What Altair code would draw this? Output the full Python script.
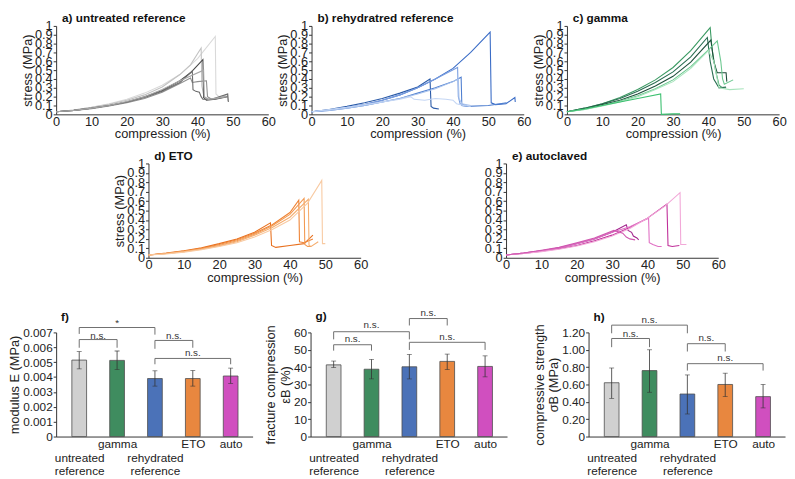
import altair as alt
import pandas as pd

FONT = "Liberation Sans"

# ---------------- stress-strain curves: (compression %, stress MPa) ----------------
# a) untreated reference
A1 = [(0, 0.03), (5, 0.05), (10, 0.08), (15, 0.12), (20, 0.17), (25, 0.24), (30, 0.33), (35, 0.45), (40, 0.63), (45, 0.88), (45.2, 0.23), (46, 0.2), (48, 0.21), (48.5, 0.2)]
A2 = [(0, 0.03), (5, 0.05), (10, 0.08), (15, 0.115), (20, 0.16), (25, 0.22), (30, 0.31), (35, 0.45), (38, 0.56), (41, 0.75), (41.2, 0.32), (41.8, 0.2), (43, 0.17), (46, 0.18), (48.5, 0.23), (48.6, 0.15)]
A3 = [(0, 0.03), (5, 0.045), (10, 0.07), (15, 0.1), (20, 0.14), (25, 0.2), (30, 0.27), (35, 0.38), (38, 0.47), (41.5, 0.62), (41.7, 0.19), (42.5, 0.16), (45, 0.17), (48.5, 0.2)]
A4 = [(0, 0.03), (5, 0.045), (10, 0.065), (15, 0.095), (20, 0.13), (25, 0.18), (30, 0.25), (35, 0.35), (38, 0.41), (38.5, 0.36), (40, 0.37), (42.5, 0.38), (42.8, 0.2), (44, 0.17), (48, 0.2)]
A5 = [(0, 0.03), (5, 0.045), (10, 0.068), (15, 0.1), (20, 0.14), (25, 0.19), (30, 0.26), (35, 0.36), (38.5, 0.49), (38.7, 0.28), (39.5, 0.26), (40.5, 0.25), (41, 0.2), (41.5, 0.17), (44, 0.17), (48.5, 0.23), (48.7, 0.14)]
A6 = [(0, 0.03), (5, 0.045), (10, 0.07), (15, 0.1), (20, 0.145), (25, 0.2), (30, 0.28), (35, 0.38), (41.7, 0.5), (41.9, 0.2), (43, 0.17), (48, 0.2)]
A_COLORS = ["#d9d9d9", "#c2c2c2", "#4a4a4a", "#8f8f8f", "#6a6a6a", "#a6a6a6"]

# b) rehydrated reference
B1 = [(0, 0.03), (5, 0.05), (10, 0.08), (15, 0.11), (20, 0.16), (25, 0.22), (30, 0.3), (35, 0.4), (40, 0.52), (45, 0.7), (50.5, 0.93), (50.8, 0.13), (52, 0.11), (55, 0.12), (57.5, 0.19), (57.6, 0.14)]
B2 = [(0, 0.03), (5, 0.055), (10, 0.09), (15, 0.13), (20, 0.18), (25, 0.24), (30, 0.31), (33.5, 0.4), (33.8, 0.09), (34.5, 0.07), (36, 0.06)]
B3 = [(0, 0.03), (5, 0.045), (10, 0.07), (15, 0.1), (20, 0.14), (25, 0.18), (30, 0.24), (35, 0.3), (40, 0.37), (42.3, 0.42), (42.5, 0.1), (44, 0.09), (50, 0.1), (55, 0.13), (55.2, 0.12)]
B4 = [(0, 0.03), (5, 0.05), (10, 0.08), (15, 0.11), (20, 0.16), (25, 0.22), (30, 0.3), (35, 0.4), (41.3, 0.53), (41.5, 0.2), (42, 0.12), (44, 0.1)]
B5 = [(0, 0.03), (5, 0.045), (10, 0.07), (15, 0.1), (20, 0.14), (25, 0.18), (30, 0.23), (35, 0.29), (40, 0.37), (41.5, 0.4), (41.7, 0.18), (42.5, 0.12), (45, 0.1)]
B6 = [(0, 0.03), (10, 0.08), (20, 0.14), (25, 0.17), (28, 0.2), (29, 0.17), (32, 0.16), (35, 0.18), (38, 0.17), (40, 0.16), (41, 0.12), (43, 0.1), (45, 0.09)]
B_COLORS = ["#3a6cc6", "#2a5aa8", "#4f7fd0", "#7a9ee0", "#a8c2ec", "#c4d6f4"]

# c) gamma
C1 = [(0, 0.03), (5, 0.07), (10, 0.12), (15, 0.19), (20, 0.28), (25, 0.39), (30, 0.53), (35, 0.72), (40.5, 0.98), (41, 0.75), (42, 0.5), (43, 0.33), (44, 0.3), (45, 0.3)]
C2 = [(0, 0.03), (5, 0.07), (10, 0.12), (15, 0.18), (20, 0.26), (25, 0.36), (30, 0.48), (35, 0.65), (39.7, 0.87), (40.5, 0.6), (41.5, 0.4), (43, 0.3), (45, 0.31)]
C3 = [(0, 0.03), (5, 0.06), (10, 0.11), (15, 0.16), (20, 0.23), (25, 0.32), (30, 0.43), (35, 0.59), (40.7, 0.84), (41.5, 0.6), (42.5, 0.47), (45, 0.47), (45.2, 0.37)]
C4 = [(0, 0.03), (5, 0.055), (10, 0.1), (15, 0.15), (20, 0.21), (25, 0.29), (30, 0.39), (35, 0.54), (40, 0.73), (42.5, 0.83), (43.5, 0.6), (44, 0.4), (44.5, 0.34), (47, 0.39)]
C5 = [(0, 0.03), (5, 0.055), (10, 0.095), (15, 0.14), (20, 0.2), (25, 0.28), (30, 0.37), (35, 0.52), (40, 0.72), (41.5, 0.6), (43, 0.3), (46, 0.28), (50, 0.29)]
C6 = [(0, 0.03), (5, 0.06), (10, 0.1), (15, 0.14), (20, 0.18), (26.5, 0.23), (26.7, 0.0), (30, 0.005), (32, 0.005)]
C_COLORS = ["#3a9a62", "#2a6e52", "#1e4e3a", "#6cc890", "#a8e4bc", "#3cc070"]

# d) ETO
D1 = [(0, 0.03), (5, 0.05), (10, 0.075), (15, 0.105), (20, 0.15), (25, 0.2), (30, 0.27), (34.5, 0.37), (34.8, 0.13), (36, 0.11), (40, 0.13), (44, 0.15), (46.5, 0.24)]
D2 = [(0, 0.03), (5, 0.045), (10, 0.07), (15, 0.1), (20, 0.14), (25, 0.19), (30, 0.26), (35, 0.35), (40, 0.48), (42.5, 0.61), (42.7, 0.17), (44, 0.16), (46.5, 0.2)]
D3 = [(0, 0.03), (5, 0.045), (10, 0.065), (15, 0.095), (20, 0.13), (25, 0.18), (30, 0.25), (35, 0.34), (40, 0.46), (44, 0.63), (44.2, 0.14), (45, 0.12), (46, 0.12)]
D4 = [(0, 0.03), (5, 0.045), (10, 0.065), (15, 0.09), (20, 0.125), (25, 0.17), (30, 0.24), (35, 0.32), (40, 0.43), (45.2, 0.62), (45.4, 0.13), (46, 0.12), (48, 0.17)]
D5 = [(0, 0.03), (5, 0.04), (10, 0.06), (15, 0.085), (20, 0.12), (25, 0.16), (30, 0.22), (35, 0.3), (40, 0.4), (45, 0.58), (49, 0.82), (49.2, 0.15), (50, 0.15)]
D_COLORS = ["#e8701e", "#ef8436", "#f29a52", "#f5ae70", "#f8caa2"]

# e) autoclaved
E1 = [(0, 0.03), (5, 0.05), (10, 0.075), (15, 0.105), (20, 0.15), (25, 0.2), (30, 0.27), (34, 0.35), (34.5, 0.29), (35.5, 0.27), (36, 0.23), (37, 0.21), (37.5, 0.19)]
E2 = [(0, 0.03), (5, 0.045), (10, 0.07), (15, 0.095), (20, 0.13), (25, 0.18), (30, 0.24), (35, 0.32), (40, 0.42), (45.5, 0.57), (45.8, 0.13), (47, 0.12), (49, 0.13)]
E3 = [(0, 0.03), (5, 0.05), (10, 0.075), (15, 0.105), (20, 0.15), (25, 0.2), (30, 0.27), (35, 0.33), (40.3, 0.42), (40.5, 0.16), (41.5, 0.14), (43, 0.12), (44, 0.12)]
E4 = [(0, 0.03), (5, 0.045), (10, 0.065), (15, 0.09), (20, 0.125), (25, 0.17), (30, 0.23), (35, 0.31), (40, 0.42), (45, 0.55), (49.2, 0.69), (49.4, 0.14), (51, 0.14)]
E5 = [(0, 0.03), (5, 0.05), (10, 0.08), (15, 0.11), (20, 0.16), (25, 0.21), (30.5, 0.29), (33, 0.26), (34, 0.22), (35, 0.2), (36.5, 0.19)]
E_COLORS = ["#a3258e", "#c0309a", "#e070c4", "#f2a8d8", "#d058b0"]

# ---------------- bar data ----------------
CATS = ["untreated reference", "gamma", "rehydrated reference", "ETO", "auto"]
BAR_COLORS = ["#d0d0d0", "#3f8c5f", "#4b72b8", "#e8873f", "#d04fbf"]

MOD_MEAN = [0.00514, 0.00512, 0.0039, 0.0039, 0.00407]
MOD_LO = [0.00455, 0.0045, 0.00339, 0.00339, 0.00357]
MOD_HI = [0.00571, 0.00575, 0.00442, 0.00444, 0.0046]

FRAC_MEAN = [41.3, 38.8, 40.2, 43.3, 40.4]
FRAC_LO = [39.8, 33.2, 33.2, 38.6, 34.4]
FRAC_HI = [43.5, 44.5, 47.3, 47.5, 46.5]

STR_MEAN = [0.62, 0.76, 0.49, 0.60, 0.46]
STR_LO = [0.44, 0.51, 0.26, 0.46, 0.33]
STR_HI = [0.79, 1.00, 0.71, 0.73, 0.60]

# significance brackets: (left, right, top, left_bottom, right_bottom, label, label_y)
MOD_BRACKETS = [(0, 1, 0.00652, 0.00597, 0.00597, "n.s.", 0.00678),
                (0, 2, 0.00733, 0.0069, 0.00685, "*", 0.00764),
                (2, 3, 0.00646, 0.0059, 0.00597, "n.s.", 0.00678),
                (2, 4, 0.00525, 0.00486, 0.00486, "n.s.", 0.00558)]
FRAC_BRACKETS = [(0, 1, 52.9, 49.5, 49.5, "n.s.", 56.0),
                 (0, 2, 60.4, 56.0, 56.0, "n.s.", 64.0),
                 (2, 3, 68.0, 64.0, 64.0, "n.s.", 71.2),
                 (2, 4, 54.3, 49.9, 49.9, "n.s.", 57.5)]
STR_BRACKETS = [(0, 1, 1.13, 1.03, 1.03, "n.s.", 1.18),
                (0, 2, 1.284, 1.19, 1.19, "n.s.", 1.344),
                (2, 3, 1.07, 0.98, 0.98, "n.s.", 1.13),
                (2, 4, 0.84, 0.76, 0.76, "n.s.", 0.90)]

STRESS_TICKS = [0, 0.1, 0.2, 0.3, 0.4, 0.5, 0.6, 0.7, 0.8, 0.9, 1]
COMP_TICKS = [0, 10, 20, 30, 40, 50, 60]


def line_panel(title, curves, colors, ytitle=True, w=216, h=97, toff=-5, tdx=6):
    rows = []
    for ci, pts in enumerate(curves):
        for pi, (x, y) in enumerate(pts):
            rows.append({"curve": f"s{ci}", "col": colors[ci], "i": pi, "x": x, "y": y})
    df = pd.DataFrame(rows)
    yaxis = dict(values=STRESS_TICKS, format="~g", labelOverlap=False, labelFlush=False,
                 grid=False, tickSize=3, labelPadding=1, labelFontSize=13, labelFont=FONT,
                 titleFont=FONT, titleFontSize=13, titleFontWeight="normal", titlePadding=0,
                 domainColor="#333333", tickColor="#333333", labelColor="#222222", titleColor="#222222")
    if ytitle:
        yaxis["title"] = "stress (MPa)"
    else:
        yaxis["title"] = None
    return alt.Chart(df).mark_line(strokeWidth=1.1).encode(
        x=alt.X("x:Q", scale=alt.Scale(domain=[0, 60], nice=False),
                axis=alt.Axis(values=COMP_TICKS, title="compression (%)", labelFlush=False,
                              labelOverlap=False, grid=False, ticks=False, labelPadding=1,
                              labelFontSize=13, labelFont=FONT, titleFont=FONT, titleFontSize=13,
                              titleFontWeight="normal", titlePadding=0,
                              domainColor="#333333", labelColor="#222222", titleColor="#222222")),
        y=alt.Y("y:Q", scale=alt.Scale(domain=[0, 1], nice=False), axis=alt.Axis(**yaxis)),
        color=alt.Color("col:N", scale=None),
        detail="curve:N",
        order="i:Q",
    ).properties(width=w, height=h,
                 title=alt.TitleParams(title, anchor="start", frame="group", offset=toff, dx=tdx,
                                       fontSize=12, fontWeight="bold", font=FONT, color="#111111"))


def label_expr():
    parts = []
    for c in CATS:
        words = c.split(" ")
        if len(words) > 1:
            parts.append("['', " + ", ".join(f"'{w}'" for w in words) + "]")
        else:
            parts.append(f"'{c}'")
    return "[" + ", ".join(parts) + "][datum.value]"


def bar_panel(title, mean, lo, hi, brackets, ytitle, ymax, yvals, yfmt, w=200, h=106, toff=2):
    df = pd.DataFrame({"idx": list(range(len(CATS))), "cat": CATS, "col": BAR_COLORS,
                       "mean": mean, "lo": lo, "hi": hi})
    bdf = pd.DataFrame(brackets, columns=["l", "r", "top", "lb", "rb", "label", "ly"])
    xscale = alt.Scale(domain=[-0.48, 4.45], nice=False, zero=False)
    yscale = alt.Scale(domain=[0, ymax], nice=False)
    xaxis = alt.Axis(values=list(range(len(CATS))), labelExpr=label_expr(), title=None, grid=False,
                     ticks=False, labelPadding=2, labelFontSize=12, labelFont=FONT,
                     labelLineHeight=14, labelOverlap=False, labelFlush=False,
                     domainColor="#333333", labelColor="#222222")
    if yfmt:
        lexpr = f"datum.value == 0 ? '0' : format(datum.value, '{yfmt}')"
    else:
        lexpr = "format(datum.value, 'd')"
    yaxis = alt.Axis(values=yvals, labelExpr=lexpr, title=ytitle, grid=False, tickSize=3,
                     labelPadding=1, labelFontSize=12, labelFont=FONT, labelOverlap=False,
                     labelFlush=False, titleFont=FONT, titleFontSize=13, titleFontWeight="normal",
                     titlePadding=1, domainColor="#333333", tickColor="#333333",
                     labelColor="#222222", titleColor="#222222")

    def X(f):
        return alt.X(f, scale=xscale, axis=xaxis)

    def Y(f):
        return alt.Y(f, scale=yscale, axis=yaxis)

    base = alt.Chart(df)
    bars = base.mark_bar(size=15, orient="vertical", stroke="#4d4d4d", strokeWidth=0.8).encode(
        x=X("idx:Q"), y=Y("mean:Q"), color=alt.Color("col:N", scale=None))
    err = base.mark_rule(color="#333333", strokeWidth=0.8).encode(x=X("idx:Q"), y=Y("lo:Q"), y2="hi:Q")
    cap_lo = base.mark_tick(orient="horizontal", size=5, thickness=0.8, color="#333333").encode(x=X("idx:Q"), y=Y("lo:Q"))
    cap_hi = base.mark_tick(orient="horizontal", size=5, thickness=0.8, color="#333333").encode(x=X("idx:Q"), y=Y("hi:Q"))
    bb = alt.Chart(bdf).transform_calculate(mid="(datum.l + datum.r) / 2")
    bcol = "#6e6e6e"
    hline = bb.mark_rule(color=bcol, strokeWidth=1).encode(x=X("l:Q"), x2="r:Q", y=Y("top:Q"))
    lv = bb.mark_rule(color=bcol, strokeWidth=1).encode(x=X("l:Q"), y=Y("top:Q"), y2="lb:Q")
    rv = bb.mark_rule(color=bcol, strokeWidth=1).encode(x=X("r:Q"), y=Y("top:Q"), y2="rb:Q")
    txt = bb.mark_text(fontSize=10, font=FONT, color="#333333", baseline="middle").encode(
        x=X("mid:Q"), y=Y("ly:Q"), text="label:N")
    return alt.layer(bars, err, cap_lo, cap_hi, hline, lv, rv, txt).properties(
        width=w, height=h,
        title=alt.TitleParams(title, anchor="start", frame="group", offset=toff, dx=5,
                              fontSize=12, fontWeight="bold", font=FONT, color="#111111"))


pa = line_panel("a) untreated reference", [A1, A2, A3, A4, A5, A6], A_COLORS, h=90)
pb = line_panel("b) rehydratred reference", [B1, B2, B3, B4, B5, B6], B_COLORS, h=90)
pc = line_panel("c) gamma", [C1, C2, C3, C4, C5, C6], C_COLORS, h=90)
pd_ = line_panel("d) ETO", [D1, D2, D3, D4, D5], D_COLORS, h=96)
pe = line_panel("e) autoclaved", [E1, E2, E3, E4, E5], E_COLORS, ytitle=False, h=96)

spacer = alt.Chart(pd.DataFrame({"v": [0]})).transform_filter("false").mark_point().encode(
    x=alt.X("v:Q", axis=None), y=alt.Y("v:Q", axis=None)).properties(width=6, height=10)

pf = bar_panel("f)", MOD_MEAN, MOD_LO, MOD_HI, MOD_BRACKETS, "modulus E (MPa)", 0.007,
               [i / 1000 for i in range(8)], ".3f", toff=-6)
pg = bar_panel("g)", FRAC_MEAN, FRAC_LO, FRAC_HI, FRAC_BRACKETS, ["fracture compression", "εB (%)"], 60,
               [0, 10, 20, 30, 40, 50, 60], None, toff=-15)
ph = bar_panel("h)", STR_MEAN, STR_LO, STR_HI, STR_BRACKETS, ["compressive strength", "σB (MPa)"], 1.2,
               [0, 0.2, 0.4, 0.6, 0.8, 1.0, 1.2], ".2f", toff=-9)

row1 = alt.hconcat(pa, pb, pc, spacing=0)
row2 = alt.hconcat(spacer, alt.hconcat(pd_, pe, spacing=117), spacing=52)
row3 = alt.hconcat(alt.hconcat(pf, pg, spacing=12), ph, spacing=26)

top = alt.vconcat(row1, row2, spacing=9, center=False)
chart = alt.vconcat(top, row3, spacing=24, center=False).properties(padding=0).configure_view(stroke=None)

chart.save("out.html", embed_options={"renderer": "svg", "actions": False})
